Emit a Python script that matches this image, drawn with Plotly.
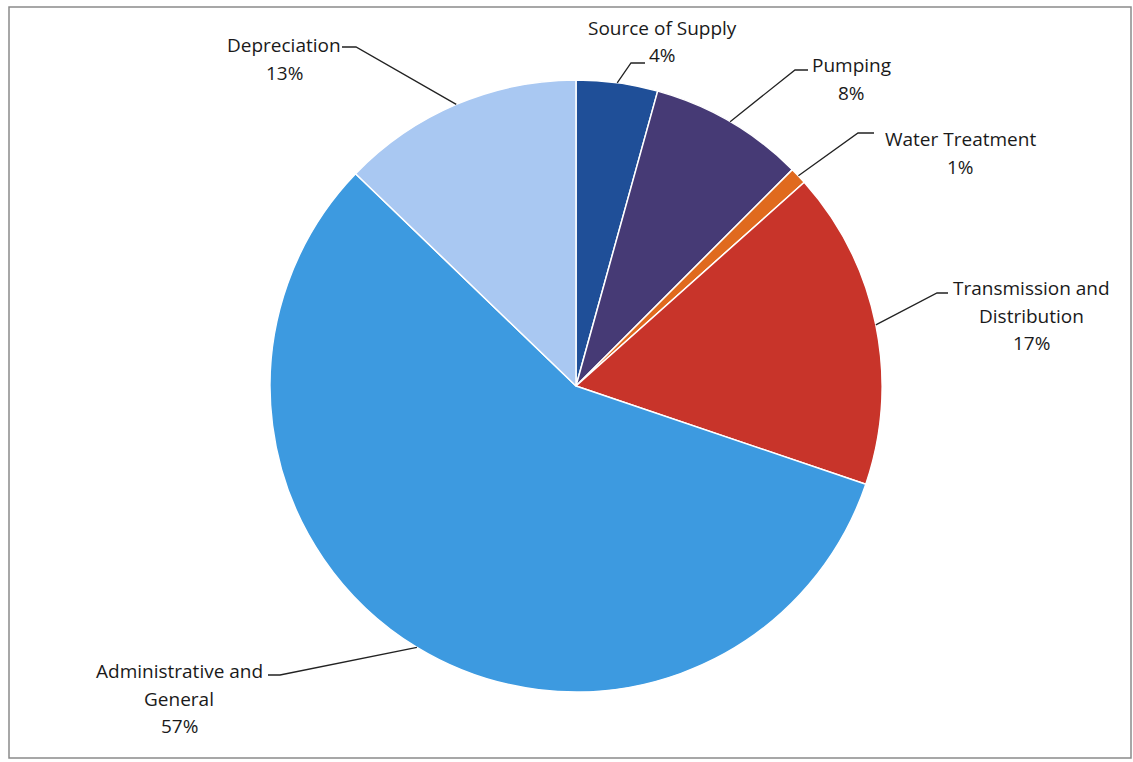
import math
import plotly.graph_objects as go

# ---- data ----
categories = ["Source of Supply", "Pumping", "Water Treatment",
              "Transmission and Distribution", "Administrative and General", "Depreciation"]
values = [4.3, 8.2, 0.9, 16.8, 57.0, 12.8]
pct_labels = ["4%", "8%", "1%", "17%", "57%", "13%"]
label_lines = [
    ["Source of Supply", "4%"],
    ["Pumping", "8%"],
    ["Water Treatment", "1%"],
    ["Transmission and", "Distribution", "17%"],
    ["Administrative and", "General", "57%"],
    ["Depreciation", "13%"],
]
colors = ["#1f4f98", "#463a75", "#e06a1e", "#c8342a", "#3d9ae0", "#a9c8f2"]

# ---- layout constants (pixels) ----
W, H = 1133, 762
CX, CY, R = 576, 386, 306
FONT = "Open Sans"
FS = 19
LINE_GAP = 27.5
# label (center x, first-line y), elbow point, end of horizontal segment
label_pos = [(662, 28), (851, 65), (960, 139), (1031, 288), (179, 671), (284, 45)]
elbows = [(631, 63), (795, 70), (858, 133), (937, 293), (280, 675), (356, 47)]
elbow_ends = [(645, 63), (808, 70), (874, 133), (948, 293), (268, 675), (342, 47)]


def px(x):
    return x / W


def py(y):
    return 1 - y / H


fig = go.Figure(go.Pie(
    labels=categories, values=values, sort=False, direction="clockwise",
    rotation=0, textinfo="none", hoverinfo="label+percent",
    marker=dict(colors=colors, line=dict(color="white", width=1.5)),
    domain=dict(x=[px(CX - R), px(CX + R)], y=[py(CY + R), py(CY - R)]),
    showlegend=False,
))

annotations = []
shapes = []
total = sum(values)
cum = 0.0
for i, v in enumerate(values):
    mid = (cum + v / 2) / total * 2 * math.pi
    cum += v
    ex = CX + R * math.sin(mid)
    ey = CY - R * math.cos(mid)
    bx, by = elbows[i]
    hx, hy = elbow_ends[i]
    shapes.append(dict(
        type="path", xref="paper", yref="paper",
        path=f"M {px(ex)} {py(ey)} L {px(bx)} {py(by)} L {px(hx)} {py(hy)}",
        line=dict(color="#222222", width=1.3),
    ))
    lx, ly = label_pos[i]
    for j, t in enumerate(label_lines[i]):
        annotations.append(dict(
            x=px(lx), y=py(ly + j * LINE_GAP), xref="paper", yref="paper",
            text=t, showarrow=False, xanchor="center", yanchor="middle",
            font=dict(family=FONT, size=FS, color="#1a1a1a"),
        ))

# chart border
shapes.append(dict(type="rect", xref="paper", yref="paper",
                   x0=px(9), x1=px(1131), y0=py(758), y1=py(7),
                   line=dict(color="#8a8a8a", width=1.5)))

fig.update_layout(
    width=W, height=H, margin=dict(l=0, r=0, t=0, b=0),
    paper_bgcolor="white", plot_bgcolor="white",
    shapes=shapes, annotations=annotations,
)

fig.write_html("out.html")
